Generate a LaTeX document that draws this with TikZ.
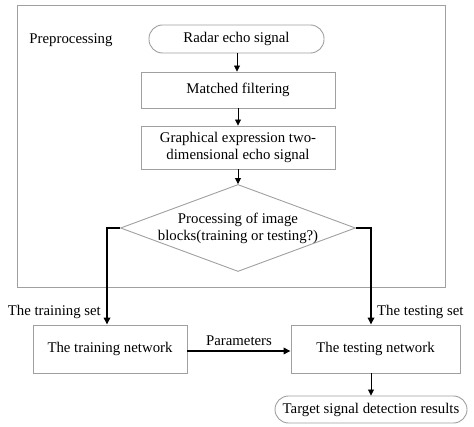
\documentclass[tikz,border=0pt]{standalone}
\usepackage{fontspec}
\setmainfont{Liberation Serif}
\usetikzlibrary{arrows.meta,shapes.geometric}
\definecolor{boxgray}{HTML}{A0A0A0}
\tikzset{
  box/.style={draw=boxgray, line width=0.9pt, rectangle, inner sep=0pt, align=center},
  term/.style={box, rounded corners=13.5pt},
  decision/.style={draw=boxgray, line width=0.9pt, diamond, inner sep=0pt},
  lbl/.style={inner sep=0pt},
  thin arrow/.style={draw=black, line width=0.8pt, -{Triangle[length=6pt,width=6pt]}},
  thick arrow/.style={draw=black, line width=1.6pt, -{Triangle[length=7pt,width=6.5pt]}},
}
\begin{document}
\begin{tikzpicture}[x=1pt,y=-1pt, font=\fontsize{14.8}{17}\selectfont]
\useasboundingbox (0,0) rectangle (474,427);
\node[box, minimum width=428pt, minimum height=282pt] (pre) at (231,146) {};
\node[lbl] (prelbl) at (71,40) {Preprocessing};
\node[term, minimum width=175pt, minimum height=28pt] (radar) at (236.5,39) {Radar echo signal};
\node[box, minimum width=194pt, minimum height=36pt] (match) at (238,90) {Matched filtering};
\node[box, minimum width=194pt, minimum height=43pt] (graph) at (238,147.5) {Graphical expression two-\\dimensional echo signal};
\node[decision, minimum width=235pt, minimum height=87pt,
  label={[align=center, inner sep=0pt]center:Processing of image\\blocks(training or testing?)}] (dec) at (238,228) {};
\node[box, minimum width=154pt, minimum height=48pt] (train) at (110,349) {The training network};
\node[box, minimum width=169pt, minimum height=48pt] (test) at (375.5,349) {The testing network};
\node[term, minimum width=192pt, minimum height=27pt] (target) at (371,409.5) {Target signal detection results};
\node[lbl, anchor=east] (trainset) at (101,312) {The training set};
\node[lbl, anchor=west] (testset) at (377,312) {The testing set};

\draw[thin arrow] (radar.south -| 237,0) -- (match.north -| 237,0);
\draw[thin arrow] (match.south -| 238,0) -- (graph.north -| 238,0);
\draw[thin arrow] (graph.south) -- (dec.north);
\draw[thick arrow] (dec.west) -| ([xshift=-3pt]train.north);
\draw[thick arrow] (dec.east) -| ([xshift=-4.5pt]test.north);
\draw[thick arrow] ([yshift=-2pt]train.east) -- node[lbl, above=5pt] (params) {Parameters} ([yshift=-2pt]test.west);
\draw[thin arrow] (target.north |- test.south) -- (target.north);
\end{tikzpicture}
\end{document}
